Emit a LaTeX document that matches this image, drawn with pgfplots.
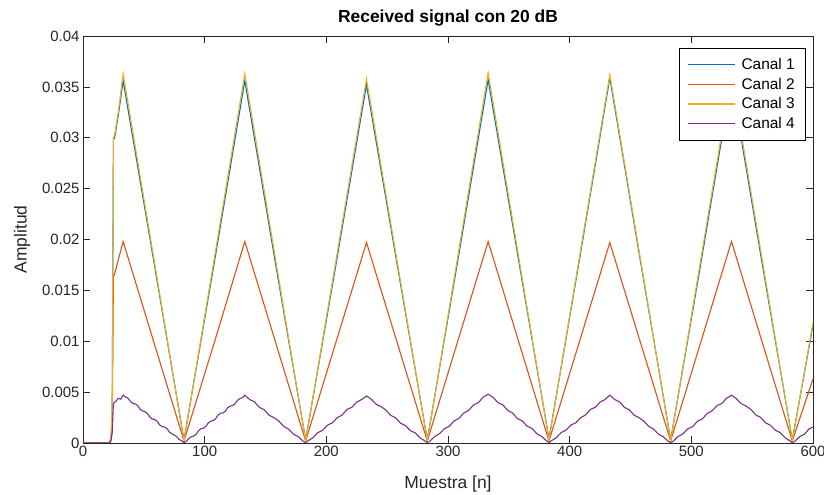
\documentclass[border=0pt]{standalone}
\usepackage{fontspec}
\setmainfont{Liberation Sans}
\usepackage{pgfplots}
\pgfplotsset{compat=1.18}
\definecolor{mlblue}{rgb}{0,0.447,0.741}
\definecolor{mlorange}{rgb}{0.850,0.325,0.098}
\definecolor{mlyellow}{rgb}{0.929,0.694,0.125}
\definecolor{mlpurple}{rgb}{0.494,0.184,0.556}
\definecolor{axc}{rgb}{0.15,0.15,0.15}
\begin{document}
\begin{tikzpicture}
\begin{axis}[
  scale only axis, width=730bp, height=407bp,
  xmin=0, xmax=600, ymin=0, ymax=0.04,
  xtick={0,100,200,300,400,500,600},
  ytick={0,0.005,0.01,0.015,0.02,0.025,0.03,0.035,0.04},
  scaled y ticks=false,
  /pgf/number format/assume math mode=true,
  yticklabel style={/pgf/number format/fixed,/pgf/number format/precision=3},
  tick align=inside, major tick length=7bp,
  axis line style={axc, line width=0.6bp},
  every tick/.style={axc, line width=0.6bp},
  tick label style={font=\fontsize{15}{18}\selectfont, text=axc},
  label style={font=\fontsize{17.5}{21}\selectfont, text=axc},
  xlabel style={yshift=-12bp},
  ylabel style={yshift=5bp},
  title style={font=\bfseries\fontsize{17.5}{21}\selectfont},
  title={Received signal con 20 dB},
  xlabel={Muestra [n]}, ylabel={Amplitud},
  legend style={at={(1,1)}, anchor=north east, xshift=-8bp, yshift=-12bp,
    font=\fontsize{15.5}{18}\selectfont,
    row sep=3bp, inner xsep=8bp, inner ysep=8bp,
    /tikz/every odd column/.append style={column sep=4bp}},
  legend cell align=left,
  legend image code/.code={\draw[#1, line width=1.3bp] (0bp,0bp) -- (47bp,0bp);},
  every axis plot/.append style={line width=1.1bp},
]
\addplot[color=mlblue] coordinates {
(0,0) (20,0) (22,0.0001) (23,0.0005) (24,0.0025) (25,0.0298) (26,0.0300) (29,0.0322) (33,0.0356)
(58,0.0180) (83,0.0003) (108,0.0178) (133,0.0356) (158,0.0178) (183,0.0003)
(208,0.0176) (233,0.0352) (258,0.0177) (283,0.0003) (308,0.0179) (333,0.0357)
(358,0.0180) (383,0.0004) (408,0.0180) (433,0.0359) (458,0.0180) (483,0.0003)
(508,0.0178) (533,0.0356) (558,0.0178) (583,0.0003) (600,0.0116)};
\addlegendentry{Canal 1}
\addplot[color=mlorange] coordinates {
(0,0) (20,0) (22,0.0001) (23,0.0003) (24,0.0015) (25,0.0163) (26,0.0166) (29,0.0180) (33,0.0198)
(58,0.0100) (83,0.0002) (108,0.0099) (133,0.0198) (183,0.0002) (233,0.0197)
(283,0.0002) (333,0.0198) (383,0.0002) (433,0.0197) (483,0.0002) (533,0.0198)
(583,0.0002) (600,0.0063)};
\addlegendentry{Canal 2}
\addplot[color=mlyellow] coordinates {
(0,0) (20,0) (22,0.0001) (23,0.0006) (24,0.0030) (25,0.0300) (26,0.0303) (29,0.0325) (33,0.0363)
(58,0.0183) (83,0.0002) (108,0.0182) (133,0.0363) (183,0.0002) (233,0.0358)
(283,0.0002) (333,0.0364) (383,0.0003) (433,0.0362) (483,0.0002) (533,0.0362)
(583,0.0002) (600,0.0118)};
\addlegendentry{Canal 3}
\addplot[color=mlpurple] coordinates {
(0,0) (20,0) (22,0) (23,0.0002) (24,0.0010) (25,0.0039) (27,0.0041) (29,0.0044) (31,0.0043) (33,0.0047)
(35,0.00452) (37,0.00440) (39,0.00408) (41,0.00389) (43,0.00384) (45,0.00367) (47,0.00330) (49,0.00315) (51,0.00307) (53,0.00289) (55,0.00254) (57,0.00235) (59,0.00230) (61,0.00213)
(63,0.00178) (65,0.00161) (67,0.00158) (69,0.00141) (71,0.00108) (73,0.00090) (75,0.00080) (77,0.00062) (79,0.00035) (81,0.00022) (83,0.00003)
(85,0.00017) (87,0.00045) (89,0.00062) (91,0.00068) (93,0.00087) (95,0.00120) (97,0.00141) (99,0.00145) (101,0.00164) (103,0.00198) (105,0.00215) (107,0.00220) (109,0.00238)
(111,0.00275) (113,0.00292) (115,0.00295) (117,0.00312) (119,0.00348) (121,0.00362) (123,0.00368) (125,0.00386) (127,0.00420) (129,0.00438) (131,0.00445) (133,0.00470)
(137,0.00427) (141,0.00404) (145,0.00350) (149,0.00326) (153,0.00272) (157,0.00249) (161,0.00215)
(165,0.00163) (169,0.00136) (173,0.00087) (177,0.00061) (181,0.00017) (183,0.00003)
(185,0.00022) (189,0.00051) (193,0.00102) (197,0.00126) (201,0.00176) (205,0.00198) (209,0.00249)
(213,0.00275) (217,0.00329) (221,0.00351) (225,0.00402) (229,0.00427) (233,0.00462)
(237,0.00429) (241,0.00380) (245,0.00357) (249,0.00323) (253,0.00271) (257,0.00247) (261,0.00194)
(265,0.00171) (269,0.00122) (273,0.00100) (277,0.00051) (281,0.00020) (283,0.00004)
(285,0.00016) (289,0.00064) (293,0.00091) (297,0.00140) (301,0.00164) (305,0.00217) (309,0.00242)
(313,0.00295) (317,0.00321) (321,0.00374) (325,0.00397) (329,0.00450) (333,0.00480)
(337,0.00450) (341,0.00397) (345,0.00375) (349,0.00321) (353,0.00295) (357,0.00241) (361,0.00217)
(365,0.00165) (369,0.00143) (373,0.00092) (377,0.00064) (381,0.00022) (383,0.00004)
(385,0.00022) (389,0.00051) (393,0.00102) (397,0.00126) (401,0.00176) (405,0.00198) (409,0.00249)
(413,0.00275) (417,0.00329) (421,0.00351) (425,0.00402) (429,0.00427) (433,0.00470)
(437,0.00427) (441,0.00404) (445,0.00350) (449,0.00326) (453,0.00272) (457,0.00249) (461,0.00215)
(465,0.00163) (469,0.00136) (473,0.00087) (477,0.00061) (481,0.00017) (483,0.00003)
(485,0.00016) (489,0.00063) (493,0.00089) (497,0.00138) (501,0.00160) (505,0.00213) (509,0.00236)
(513,0.00289) (517,0.00315) (521,0.00366) (525,0.00389) (529,0.00440) (533,0.00470)
(537,0.00436) (541,0.00387) (545,0.00363) (549,0.00329) (553,0.00276) (557,0.00251) (561,0.00198)
(565,0.00174) (569,0.00125) (573,0.00102) (577,0.00052) (581,0.00021) (583,0.00003)
(585,0.00017) (589,0.00062) (593,0.00087) (597,0.00141) (600,0.00155)};
\addlegendentry{Canal 4}
\end{axis}
\pgfresetboundingbox
\path ([shift={(-83bp,-52bp)}]current axis.south west) rectangle ([shift={(11bp,36bp)}]current axis.north east);
\end{tikzpicture}
\end{document}
